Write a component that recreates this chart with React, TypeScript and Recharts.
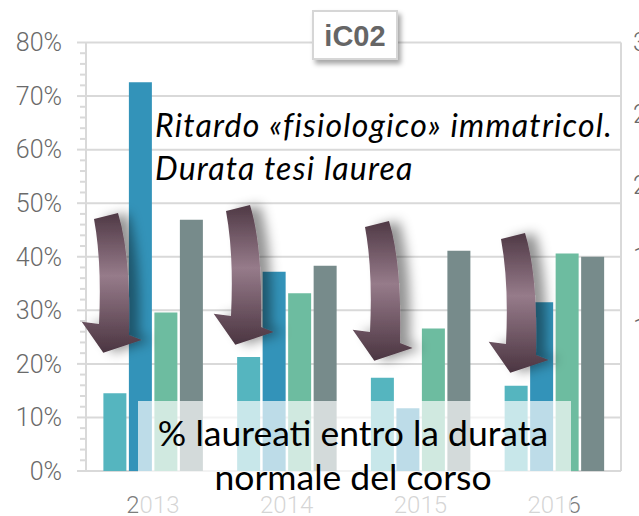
import { ComposedChart, Bar, Line, XAxis, YAxis, CartesianGrid } from 'recharts';

const years = ['2013', '2014', '2015', '2016'];
const serieA = [14.5, 21.3, 17.4, 15.9];
const serieB = [72.6, 37.2, 11.7, 31.5];
const serieC = [29.6, 33.2, 26.6, 40.6];
const serieD = [46.9, 38.3, 41.1, 40.0];

const majorTicks = [0, 10, 20, 30, 40, 50, 60, 70, 80];
const allTicks = [0, 2, 4, 6, 8, 10, 12, 14, 16, 18, 20, 22, 24, 26, 28, 30, 32, 34, 36, 38, 40, 42, 44, 46, 48, 50, 52, 54, 56, 58, 60, 62, 64, 66, 68, 70, 72, 74, 76, 78, 80];
const rightTicks = [1, 1.5, 2, 2.5, 3];
const rightLabels = ['1', '1,5', '2', '2,5', '3'];

const data = years.map((y, i) => ({ year: y, a: serieA[i], b: serieB[i], c: serieC[i], d: serieD[i] }));

const gridColor = '#d9d9d9';
const tickFont = 'Roboto, "Liberation Sans", sans-serif';

const LeftTick = (props: any) => {
  const { x, y, payload } = props;
  const major = payload.value % 10 === 0;
  return (
    <g>
      <line x1={x - (major ? 9 : 6)} x2={x} y1={y} y2={y} stroke={gridColor} strokeWidth={2} />
      {major && (
        <text x={x - 24} y={y} dy="0.35em" textAnchor="end" fontSize={25} fontFamily={tickFont} fontWeight={300} fill="#6a6a6a">
          {payload.value}%
        </text>
      )}
    </g>
  );
};

// arrow shape, drawn for the first group and shifted for the others
const arrowPath =
  'M94 219 L118 213 Q131 255 129 335 L141.7 340 L103.3 352.7 L81.7 321.7 L99 324 Q102 262 94 219 Z';
const arrowShifts = [
  [0, 0],
  [132, -8],
  [271, 8],
  [407, 20],
];

export default function App() {
  return (
    <div style={{ position: 'absolute', left: 0, top: 0, width: 639, height: 516, background: '#fff' }}>
      <ComposedChart
        width={639}
        height={516}
        data={data}
        margin={{ top: 42.5, right: 0, bottom: 0, left: 0 }}
        barCategoryGap="13%"
        barGap={2.5}
      >
        <CartesianGrid yAxisId="left" vertical={false} horizontalValues={majorTicks} stroke={gridColor} strokeWidth={2} />
        <XAxis
          dataKey="year"
          height={45}
          axisLine={false}
          tickLine={false}
          tickSize={0}
          tickMargin={25}
          tick={{ fontSize: 24, fontFamily: tickFont, fontWeight: 300, fill: '#7d7d7d' }}
        />
        <YAxis
          yAxisId="left"
          width={86}
          domain={[0, 80]}
          ticks={allTicks}
          interval={0}
          tickSize={0}
          tickMargin={0}
          tickLine={false}
          axisLine={{ stroke: gridColor, strokeWidth: 2 }}
          tick={<LeftTick />}
        />
        <YAxis
          yAxisId="right"
          orientation="right"
          width={18}
          domain={[0, 3]}
          ticks={rightTicks}
          interval={0}
          tickSize={0}
          tickMargin={12}
          tickLine={false}
          allowDataOverflow
          axisLine={{ stroke: gridColor, strokeWidth: 2 }}
          tickFormatter={(v: number) => rightLabels[rightTicks.indexOf(v)]}
          tick={{ fontSize: 25, fontFamily: tickFont, fontWeight: 300, fill: '#6a6a6a', textAnchor: 'start' }}
        />
        <Bar yAxisId="left" dataKey="a" fill="#55b5bf" isAnimationActive={false} />
        <Bar yAxisId="left" dataKey="b" fill="#3393b9" isAnimationActive={false} />
        <Bar yAxisId="left" dataKey="c" fill="#6dbca0" isAnimationActive={false} />
        <Bar yAxisId="left" dataKey="d" fill="#778b8b" isAnimationActive={false} />
        <Line yAxisId="right" dataKey="none" stroke="none" dot={false} legendType="none" isAnimationActive={false} />
      </ComposedChart>

      <svg width={639} height={516} style={{ position: 'absolute', left: 0, top: 0, pointerEvents: 'none' }}>
        <defs>
          <linearGradient id="arrowGrad" x1="0" y1="0" x2="0" y2="1">
            <stop offset="0" stopColor="#4f3945" />
            <stop offset="0.45" stopColor="#967b8a" />
            <stop offset="1" stopColor="#4b3541" />
          </linearGradient>
          <filter id="arrowShadow" x="-50%" y="-20%" width="200%" height="140%">
            <feDropShadow dx={10} dy={0} stdDeviation={6} floodColor="#000" floodOpacity={0.42} />
          </filter>
          <filter id="boxShadow" x="-20%" y="-20%" width="150%" height="160%">
            <feDropShadow dx={3} dy={4} stdDeviation={2.5} floodColor="#000" floodOpacity={0.35} />
          </filter>
        </defs>

        {arrowShifts.map(([dx, dy], i) => (
          <path key={i} d={arrowPath} transform={`translate(${dx} ${dy})`} fill="url(#arrowGrad)" filter="url(#arrowShadow)" />
        ))}

        <rect x={138} y={401} width={433} height={115} fill="#fff" fillOpacity={0.68} />
        <text x={353} y={446} textAnchor="middle" fontSize={35.5} fontFamily="Lato, sans-serif" fill="#000">
          % laureati entro la durata
        </text>
        <text x={353} y={490} textAnchor="middle" fontSize={35.5} fontFamily="Lato, sans-serif" fill="#000">
          normale del corso
        </text>

        <text x={155} y={137} fontSize={32} letterSpacing={1.2} fontStyle="italic" fontFamily="Lato, sans-serif" fill="#000">
          Ritardo «fisiologico» immatricol.
        </text>
        <text x={155} y={180} fontSize={32} letterSpacing={1.2} fontStyle="italic" fontFamily="Lato, sans-serif" fill="#000">
          Durata tesi laurea
        </text>

        <rect x={313} y={11} width={84} height={48} fill="#fff" stroke="#d6d6d6" strokeWidth={2} filter="url(#boxShadow)" />
        <text x={355} y={46} textAnchor="middle" fontSize={29} fontWeight="bold" fontFamily='"Liberation Sans", Arial, sans-serif' fill="#666">
          iC02
        </text>
      </svg>
    </div>
  );
}
